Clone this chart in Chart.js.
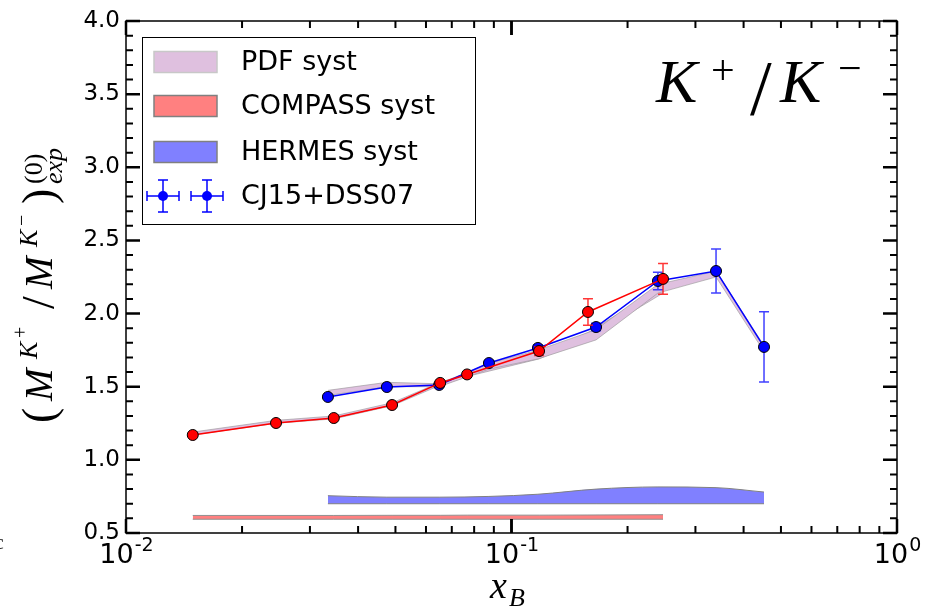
<!DOCTYPE html>
<html>
<head>
<meta charset="utf-8">
<script src="https://cdn.jsdelivr.net/npm/chart.js@4.4.0/dist/chart.umd.min.js"></script>
<style>
html, body { margin: 0; padding: 0; background: #fff; }
#wrap { width: 934px; height: 613px; }
</style>
</head>
<body>
<div id="wrap"><canvas id="grafico" width="934" height="613"></canvas></div>
<script>
// COMPASS points (red)
var xCompass   = [0.0149, 0.0245, 0.0346, 0.0490, 0.0653, 0.0767, 0.1179, 0.1579, 0.2472];
var yCompass   = [1.170, 1.252, 1.286, 1.375, 1.526, 1.584, 1.744, 2.011, 2.237];
var errCompass = [0.01, 0.01, 0.01, 0.01, 0.01, 0.01, 0.03, 0.09, 0.105];

// HERMES points, CJ15+DSS07 (blue)
var xHermes   = [0.0334, 0.0475, 0.0649, 0.0874, 0.1171, 0.1657, 0.2398, 0.3393, 0.4519];
var yHermes   = [1.430, 1.498, 1.512, 1.662, 1.765, 1.908, 2.223, 2.291, 1.772];
var errHermes = [0.01, 0.01, 0.01, 0.015, 0.02, 0.025, 0.06, 0.15, 0.24];

// PDF syst band
var pdfBaixoC = [1.170, 1.250, 1.280, 1.370, 1.510, 1.570, 1.690, 1.830, 2.140];
var pdfAltoC  = [1.190, 1.270, 1.300, 1.390, 1.530, 1.590, 1.730, 1.870, 2.190];
var pdfBaixoH = [1.440, 1.500, 1.500, 1.620, 1.690, 1.820, 2.140, 2.250, 1.740];
var pdfAltoH  = [1.475, 1.530, 1.520, 1.660, 1.750, 1.890, 2.200, 2.290, 1.780];

// experimental syst bands at the bottom
var compassSystBaixo = [0.594, 0.594, 0.594, 0.594, 0.594, 0.594, 0.594, 0.594, 0.594];
var compassSystAlto  = [0.620, 0.620, 0.620, 0.621, 0.621, 0.622, 0.622, 0.623, 0.625];
var hermesSystBaixo  = [0.700, 0.700, 0.700, 0.700, 0.700, 0.700, 0.700, 0.700, 0.700];
var hermesSystAlto   = [0.755, 0.745, 0.745, 0.750, 0.765, 0.800, 0.815, 0.810, 0.780];

var yTicks = [0.5, 1.0, 1.5, 2.0, 2.5, 3.0, 3.5, 4.0];
var yTickLabels = ['0.5', '1.0', '1.5', '2.0', '2.5', '3.0', '3.5', '4.0'];
var xTicks = [0.01, 0.1, 1];
var xTickExps = ['-2', '-1', '0'];

var pontos = function(xs, ys){
	var p = [];
	for (var i = 0; i < xs.length; i++) p.push({x: xs[i], y: ys[i]});
	return p;
};

var banda = function(xs, baixo, alto, cor, borda, ordem, suave){
	var modo = suave ? 'monotone' : 'default';
	return [
		{ data: pontos(xs, baixo), borderColor: borda, borderWidth: 1, pointRadius: 0,
		  fill: false, order: ordem, cubicInterpolationMode: modo },
		{ data: pontos(xs, alto), borderColor: borda, borderWidth: 1, pointRadius: 0,
		  backgroundColor: cor, fill: '-1', order: ordem, cubicInterpolationMode: modo }
	];
};

var datasets = [];
datasets = datasets.concat(banda(xCompass, pdfBaixoC, pdfAltoC, '#dfc0df', 'rgba(150,150,150,0.6)', 20));
datasets = datasets.concat(banda(xHermes, pdfBaixoH, pdfAltoH, '#dfc0df', 'rgba(150,150,150,0.6)', 19));
datasets = datasets.concat(banda(xCompass, compassSystBaixo, compassSystAlto, '#ff8080', '#909090', 18));
datasets = datasets.concat(banda(xHermes, hermesSystBaixo, hermesSystAlto, '#8080ff', '#808080', 17, true));
datasets.push({
	label: 'hermes', data: pontos(xHermes, yHermes), borderColor: '#0000ff', borderWidth: 1.5,
	pointRadius: 5.5, pointBackgroundColor: '#0000ff', pointBorderColor: '#000', pointBorderWidth: 1,
	fill: false, order: 2, erros: errHermes, corErro: 'rgba(30,30,255,0.85)'
});
datasets.push({
	label: 'compass', data: pontos(xCompass, yCompass), borderColor: '#ff0000', borderWidth: 1.5,
	pointRadius: 5.5, pointBackgroundColor: '#ff0000', pointBorderColor: '#000', pointBorderWidth: 1,
	fill: false, order: 1, erros: errCompass, corErro: 'rgba(255,20,20,0.85)'
});

// error bars, drawn just under each series' markers
var barrasErro = {
	id: 'barrasErro',
	beforeDatasetDraw: function(chart, args){
		var ds = chart.data.datasets[args.index];
		if (!ds.erros) return;
		var ctx = chart.ctx, sx = chart.scales.x, sy = chart.scales.y;
		ctx.save();
		ctx.strokeStyle = ds.corErro;
		ctx.lineWidth = 1.5;
		for (var i = 0; i < ds.data.length; i++) {
			var px = sx.getPixelForValue(ds.data[i].x);
			var p1 = sy.getPixelForValue(ds.data[i].y + ds.erros[i]);
			var p2 = sy.getPixelForValue(ds.data[i].y - ds.erros[i]);
			ctx.beginPath();
			ctx.moveTo(px, p1); ctx.lineTo(px, p2);
			ctx.moveTo(px - 5, p1); ctx.lineTo(px + 5, p1);
			ctx.moveTo(px - 5, p2); ctx.lineTo(px + 5, p2);
			ctx.stroke();
		}
		ctx.restore();
	}
};

// text pieces placed at fixed offsets along the baseline
var escrevePecas = function(ctx, pecas){
	for (var i = 0; i < pecas.length; i++) {
		var p = pecas[i];
		ctx.font = p.f;
		ctx.fillText(p.t, p.x, p.y || 0);
	}
};

var serifI = function(s){ return 'italic ' + s + 'px "Liberation Serif"'; };
var serif = function(s){ return s + 'px "Liberation Serif"'; };

var moldura = {
	id: 'moldura',
	afterDraw: function(chart){
		var ctx = chart.ctx, a = chart.chartArea, sx = chart.scales.x, sy = chart.scales.y;
		ctx.save();
		ctx.fillStyle = '#000';
		ctx.strokeStyle = '#000';

		// frame
		ctx.lineWidth = 1.5;
		ctx.strokeRect(a.left, a.top, a.right - a.left, a.bottom - a.top);

		// inward ticks on all sides
		var tick = function(px, vertical, comp, larg){
			ctx.lineWidth = larg;
			ctx.beginPath();
			if (vertical) {
				ctx.moveTo(px, a.bottom); ctx.lineTo(px, a.bottom - comp);
				ctx.moveTo(px, a.top); ctx.lineTo(px, a.top + comp);
			} else {
				ctx.moveTo(a.left, px); ctx.lineTo(a.left + comp, px);
				ctx.moveTo(a.right, px); ctx.lineTo(a.right - comp, px);
			}
			ctx.stroke();
		};
		for (var v = 5; v <= 40; v++) {
			var py = sy.getPixelForValue(v / 10);
			if (v % 5 === 0) tick(py, false, 14, 2.5); else tick(py, false, 7, 2);
		}
		for (var d = 0.01; d < 0.5; d *= 10) {
			for (var m = 1; m <= 10; m++) {
				var px = sx.getPixelForValue(d * m);
				if (m === 1 || m === 10) tick(px, true, 14, 2.5); else tick(px, true, 7, 2);
			}
		}

		// y tick labels
		ctx.font = '23px "DejaVu Sans"';
		ctx.textAlign = 'right';
		ctx.textBaseline = 'middle';
		for (var i = 0; i < yTicks.length; i++) {
			ctx.fillText(yTickLabels[i], a.left - 6, sy.getPixelForValue(yTicks[i]));
		}

		// x tick labels 10^n
		ctx.textAlign = 'left';
		ctx.textBaseline = 'alphabetic';
		for (var j = 0; j < xTicks.length; j++) {
			var cx = sx.getPixelForValue(xTicks[j]);
			ctx.font = '27px "DejaVu Sans"';
			var w1 = ctx.measureText('10').width;
			ctx.font = '19px "DejaVu Sans"';
			var w2 = ctx.measureText(xTickExps[j]).width;
			var x0 = cx - (w1 + w2) / 2;
			ctx.font = '27px "DejaVu Sans"';
			ctx.fillText('10', x0, 563);
			ctx.font = '19px "DejaVu Sans"';
			ctx.fillText(xTickExps[j], x0 + w1 + 1, 551);
		}

		// x axis title
		escrevePecas(ctx, [
			{t: 'x', f: serifI(38), x: 490, y: 598},
			{t: 'B', f: serifI(26), x: 509, y: 606}
		]);

		// y axis title, rotated, offsets measured from its lower end
		ctx.save();
		ctx.translate(52, 433);
		ctx.rotate(-Math.PI / 2);
		escrevePecas(ctx, [
			{t: '(', f: serif(46), x: 10, y: 2},
			{t: 'M', f: serifI(39), x: 32, y: 0},
			{t: 'K', f: serifI(26), x: 74, y: -15},
			{t: '+', f: serif(20), x: 95, y: -25},
			{t: '/', f: serif(46), x: 124, y: 2},
			{t: 'M', f: serifI(39), x: 144, y: 0},
			{t: 'K', f: serifI(26), x: 186, y: -15},
			{t: '\u2212', f: serif(20), x: 207, y: -24},
			{t: ')', f: serif(46), x: 229, y: 2},
			{t: '(0)', f: serif(26), x: 249, y: -10},
			{t: 'exp', f: serifI(26), x: 249, y: 10}
		]);
		ctx.restore();

		// clipped glyph at the left edge
		ctx.fillStyle = '#333';
		ctx.font = serif(22);
		ctx.fillText('c', -6, 549);
		ctx.fillStyle = '#000';

		// K+/K- label
		escrevePecas(ctx, [
			{t: 'K', f: serifI(62), x: 656, y: 102},
			{t: '+', f: serif(42), x: 711, y: 84},
			{t: '/', f: serif(78), x: 750, y: 114},
			{t: 'K', f: serifI(62), x: 780, y: 102},
			{t: '\u2212', f: serif(42), x: 838, y: 82}
		]);

		// legend
		ctx.fillStyle = '#fff';
		ctx.fillRect(142, 37, 333, 187);
		ctx.lineWidth = 1;
		ctx.strokeStyle = '#000';
		ctx.strokeRect(142.5, 37.5, 333, 187);
		var itens = [
			{nome: 'PDF syst', cor: '#dfc0df', borda: '#c8c8c8', y: 62},
			{nome: 'COMPASS syst', cor: '#ff8080', borda: '#808080', y: 106},
			{nome: 'HERMES syst', cor: '#8080ff', borda: '#808080', y: 152},
			{nome: 'CJ15+DSS07', y: 196}
		];
		ctx.font = '27px "DejaVu Sans"';
		ctx.textBaseline = 'middle';
		for (var k = 0; k < itens.length; k++) {
			var it = itens[k];
			if (it.cor) {
				ctx.fillStyle = it.cor;
				ctx.fillRect(154, it.y - 10.5, 63, 21);
				ctx.strokeStyle = it.borda;
				ctx.lineWidth = 1.5;
				ctx.strokeRect(154, it.y - 10.5, 63, 21);
			} else {
				[163, 207].forEach(function(mx){
					ctx.strokeStyle = '#0000ff';
					ctx.lineWidth = 1.5;
					ctx.beginPath();
					ctx.moveTo(mx - 16, it.y); ctx.lineTo(mx + 16, it.y);
					ctx.moveTo(mx, it.y - 16); ctx.lineTo(mx, it.y + 16);
					ctx.moveTo(mx - 16, it.y - 5); ctx.lineTo(mx - 16, it.y + 5);
					ctx.moveTo(mx + 16, it.y - 5); ctx.lineTo(mx + 16, it.y + 5);
					ctx.moveTo(mx - 5, it.y - 16); ctx.lineTo(mx + 5, it.y - 16);
					ctx.moveTo(mx - 5, it.y + 16); ctx.lineTo(mx + 5, it.y + 16);
					ctx.stroke();
					ctx.fillStyle = '#0000ff';
					ctx.beginPath();
					ctx.arc(mx, it.y, 5, 0, Math.PI * 2);
					ctx.fill();
				});
			}
			ctx.fillStyle = '#000';
			ctx.fillText(it.nome, 241, it.y + 1);
		}
		ctx.restore();
	}
};

var grafico = new Chart(document.getElementById('grafico'), {
	type: 'line',
	data: { datasets: datasets },
	options: {
		responsive: false,
		animation: false,
		layout: { padding: { left: 126, right: 37, top: 21, bottom: 80 } },
		plugins: { legend: { display: false }, tooltip: { enabled: false } },
		elements: { line: { tension: 0 } },
		scales: {
			x: {
				type: 'logarithmic', min: 0.01, max: 1,
				grid: { display: false }, border: { display: false },
				ticks: { display: false },
				afterFit: function(s){ s.height = 0; }
			},
			y: {
				type: 'linear', min: 0.5, max: 4.0,
				grid: { display: false }, border: { display: false },
				ticks: { display: false },
				afterFit: function(s){ s.width = 0; }
			}
		}
	},
	plugins: [barrasErro, moldura]
});
</script>
</body>
</html>
